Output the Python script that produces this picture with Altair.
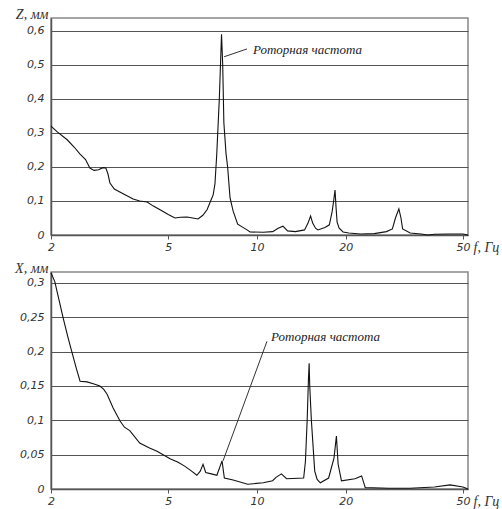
import altair as alt
import pandas as pd

# ---- data ----
top_f = [2.0, 2.1, 2.27, 2.4, 2.51, 2.62, 2.71, 2.8, 2.9, 3.0, 3.07, 3.12, 3.17, 3.28, 3.5, 3.8,
         4.0, 4.24, 4.45, 4.69, 5.0, 5.27, 5.5, 5.79, 6.05, 6.31, 6.55, 6.77, 7.0, 7.1, 7.2, 7.3,
         7.45, 7.58, 7.65, 7.72, 7.85, 7.95, 8.1, 8.3, 8.6, 9.25, 9.47, 10.5, 11.3, 11.8, 12.25,
         12.7, 13.5, 14.5, 14.9, 15.2, 15.45, 15.8, 16.1, 17.0, 17.6, 18.0, 18.2, 18.4, 18.55,
         18.7, 19.0, 19.6, 20.5, 22.4, 25.0, 27.5, 28.8, 29.5, 30.3, 30.8, 31.2, 33.1, 36.0,
         38.0, 40.0, 45.0, 50.0, 52.0]
top_z = [0.32, 0.303, 0.28, 0.258, 0.238, 0.222, 0.197, 0.19, 0.192, 0.198, 0.197, 0.18, 0.153,
         0.135, 0.122, 0.106, 0.1, 0.097, 0.085, 0.074, 0.06, 0.05, 0.052, 0.053, 0.05, 0.047,
         0.058, 0.074, 0.105, 0.118, 0.15, 0.235, 0.40, 0.59, 0.50, 0.33, 0.24, 0.2, 0.11, 0.07,
         0.032, 0.015, 0.009, 0.008, 0.01, 0.02, 0.026, 0.012, 0.01, 0.015, 0.035, 0.056, 0.035,
         0.02, 0.015, 0.022, 0.03, 0.07, 0.1, 0.132, 0.08, 0.038, 0.02, 0.009, 0.006, 0.003,
         0.004, 0.01, 0.018, 0.05, 0.077, 0.05, 0.018, 0.006, 0.003, 0.0, 0.002, 0.003, 0.003, 0.0]

bot_f = [2.0, 2.06, 2.13, 2.2, 2.28, 2.36, 2.44, 2.51, 2.65, 2.8, 2.93, 3.02, 3.1, 3.25, 3.43,
         3.55, 3.7, 4.0, 4.3, 4.58, 5.07, 5.4, 5.7, 6.0, 6.25, 6.42, 6.56, 6.7, 7.0, 7.31, 7.61,
         7.75, 8.3, 9.3, 10.5, 11.3, 11.6, 12.1, 12.6, 14.4, 14.6, 14.8, 14.95, 15.03, 15.1,
         15.3, 15.7, 16.0, 16.4, 17.5, 18.25, 18.6, 18.85, 19.35, 21.5, 22.65, 23.3, 28.0, 33.0,
         40.0, 45.2, 50.0, 52.0]
bot_x = [0.315, 0.302, 0.275, 0.249, 0.222, 0.198, 0.175, 0.157, 0.156, 0.153, 0.15, 0.145,
         0.138, 0.118, 0.099, 0.09, 0.085, 0.067, 0.06, 0.055, 0.044, 0.039, 0.033, 0.026, 0.02,
         0.026, 0.036, 0.024, 0.022, 0.02, 0.041, 0.016, 0.013, 0.007, 0.009, 0.012, 0.017,
         0.022, 0.015, 0.016, 0.04, 0.1, 0.16, 0.183, 0.15, 0.099, 0.026, 0.014, 0.009, 0.016,
         0.045, 0.077, 0.036, 0.012, 0.015, 0.019, 0.002, 0.001, 0.001, 0.003, 0.006, 0.003, 0.0]

x_ticks = [2, 5, 10, 20, 50]
z_ticks = [0, 0.1, 0.2, 0.3, 0.4, 0.5, 0.6]
xmm_ticks = [0, 0.05, 0.1, 0.15, 0.2, 0.25, 0.3]

ann_text = "Роторная частота"
top_label = [9.69, 0.544]
top_leader = [7.73, 0.524, 9.25, 0.547]
bot_label = [11.16, 0.222]
bot_leader = [7.67, 0.041, 10.81, 0.215]

X_DOMAIN = [2, 52]
Z_DOMAIN = [0, 0.638]
XMM_DOMAIN = [0, 0.316]

LABEL_FONT = "DejaVu Sans"
TITLE_FONT = "Liberation Serif"
AXIS_COLOR = "#555555"


def x_axis():
    return alt.Axis(values=x_ticks, format="d", grid=False, tickSize=4, tickColor=AXIS_COLOR,
                    domainColor=AXIS_COLOR, domainWidth=1.5, labelFont=LABEL_FONT,
                    labelFontStyle="italic", labelFontSize=11, labelColor="#333333",
                    labelPadding=2, labelFlush=False, labelOverlap=False, title="f, Гц",
                    titleFont=TITLE_FONT, titleFontStyle="italic", titleFontWeight="normal",
                    titleFontSize=14, titleColor="#333333", titleAngle=0, titleAlign="left",
                    titleBaseline="middle", titleX=422, titleY=12)


def y_axis(ticks, title):
    return alt.Axis(values=ticks, format=".2~f", labelExpr="replace(datum.label, '.', ',')",
                    grid=True, gridColor=AXIS_COLOR, gridWidth=1, ticks=False,
                    domainColor=AXIS_COLOR, domainWidth=1.5, labelFont=LABEL_FONT,
                    labelFontStyle="italic", labelFontSize=11, labelColor="#333333",
                    labelPadding=7, labelOverlap=False, title=title, titleFont=TITLE_FONT,
                    titleFontStyle="italic", titleFontWeight="normal", titleFontSize=14,
                    titleColor="#333333", titleAngle=0, titleAlign="right",
                    titleBaseline="middle", titleX=-3, titleY=-4)


def panel(fs, vs, ydomain, yticks, ytitle, label, leader):
    curve = pd.DataFrame({"f": fs, "v": vs})
    xs = alt.Scale(type="log", domain=X_DOMAIN, nice=False)
    ys = alt.Scale(domain=ydomain, nice=False)
    line = alt.Chart(curve).mark_line(color="#111111", strokeWidth=1.1).encode(
        x=alt.X("f:Q", scale=xs, axis=x_axis()),
        y=alt.Y("v:Q", scale=ys, axis=y_axis(yticks, ytitle)),
        order="f:Q",
    )
    ld = pd.DataFrame({"f1": [leader[0]], "v1": [leader[1]], "f2": [leader[2]], "v2": [leader[3]]})
    rule = alt.Chart(ld).mark_rule(color="#333333", strokeWidth=1).encode(
        x=alt.X("f1:Q", scale=xs, axis=x_axis()),
        y=alt.Y("v1:Q", scale=ys, axis=y_axis(yticks, ytitle)),
        x2="f2:Q", y2="v2:Q",
    )
    td = pd.DataFrame({"f": [label[0]], "v": [label[1]], "t": [ann_text]})
    text = alt.Chart(td).mark_text(align="left", baseline="middle", font=TITLE_FONT,
                                   fontStyle="italic", fontSize=13, color="#222222").encode(
        x=alt.X("f:Q", scale=xs, axis=x_axis()),
        y=alt.Y("v:Q", scale=ys, axis=y_axis(yticks, ytitle)),
        text="t:N",
    )
    return alt.layer(line, rule, text).properties(width=417, height=217)


top = panel(top_f, top_z, Z_DOMAIN, z_ticks, "Z, мм", top_label, top_leader)
bottom = panel(bot_f, bot_x, XMM_DOMAIN, xmm_ticks, "X, мм", bot_label, bot_leader)

chart = alt.vconcat(top, bottom, spacing=37, bounds="flush").properties(
    padding={"left": 13, "top": 6, "right": 2, "bottom": 4},
    background="white",
).configure_view(stroke="#888888", strokeWidth=1.5)

chart.save("out.html", embed_options={"renderer": "svg", "actions": False})
